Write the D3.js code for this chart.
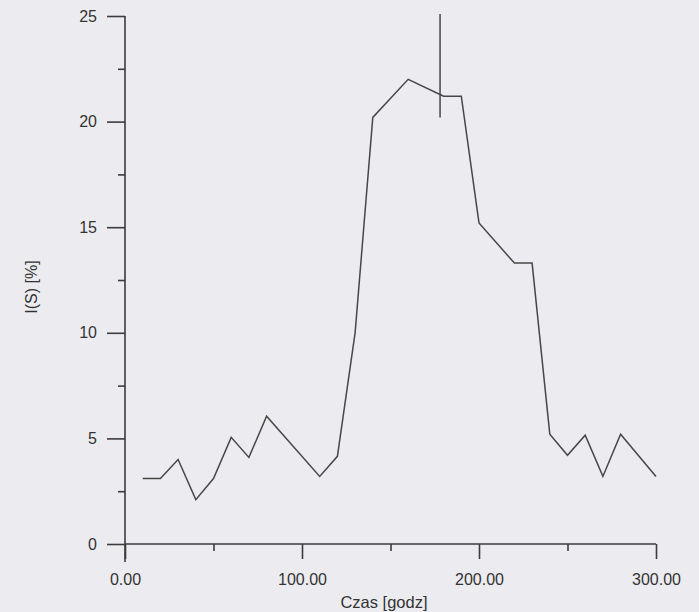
<!DOCTYPE html>
<html>
<head>
<meta charset="utf-8">
<script src="https://cdn.jsdelivr.net/npm/d3@7"></script>
<style>
  html, body { margin: 0; padding: 0; background: #ececf0; }
  svg { display: block; }
  text { font-family: "Liberation Sans", Arial, sans-serif; fill: #333; }
</style>
</head>
<body>
<svg id="chart" width="699" height="612"></svg>
<script>
// ---- data ----
const hours  = [10, 20, 30, 40, 50, 60, 70, 80, 110, 120, 130, 140, 160, 180, 190, 200, 220, 230, 240, 250, 260, 270, 280, 300];
const values = [3.1, 3.1, 4.0, 2.1, 3.1, 5.05, 4.1, 6.05, 3.2, 4.15, 10.0, 20.2, 22.0, 21.2, 21.2, 15.2, 13.3, 13.3, 5.2, 4.2, 5.15, 3.2, 5.2, 3.2];
const markerHour = [178];
const markerFrom = [20.2];
const markerTo   = [25.1];
const xMajorTicks = [0, 100, 200, 300];
const xMinorTicks = [50, 150, 250];
const yMajorTicks = [0, 5, 10, 15, 20, 25];
const yMinorTicks = [2.5, 7.5, 12.5, 17.5, 22.5];
const xTitle = "Czas [godz]";
const yTitle = "I(S) [%]";

const svg = d3.select("#chart");
const x = d3.scaleLinear().domain([0, 300]).range([125, 656]);
const y = d3.scaleLinear().domain([0, 25]).range([544, 16]);
const ink = "#3c3c3c";

// x axis (major + minor ticks)
const xAxis = d3.axisBottom(x).tickValues(xMajorTicks).tickFormat(d3.format(".2f")).tickSize(15).tickPadding(15);
const gx = svg.append("g").attr("transform", `translate(0,${y(0)})`).call(xAxis);
gx.select(".domain").attr("d", `M${x(0)},0H${x(300)}`);
const gxm = svg.append("g").attr("transform", `translate(0,${y(0)})`)
  .call(d3.axisBottom(x).tickValues(xMinorTicks).tickFormat("").tickSize(7));
gxm.select(".domain").remove();

// y axis (major + minor ticks)
const yAxis = d3.axisLeft(y).tickValues(yMajorTicks).tickFormat(d3.format("d")).tickSize(18).tickPadding(10);
const gy = svg.append("g").attr("transform", `translate(${x(0)},0)`).call(yAxis);
gy.select(".domain").attr("d", `M0,${y(25)}V${y(0) + 18}`);
const gym = svg.append("g").attr("transform", `translate(${x(0)},0)`)
  .call(d3.axisLeft(y).tickValues(yMinorTicks).tickFormat("").tickSize(7));
gym.select(".domain").remove();

svg.selectAll(".domain, .tick line").attr("stroke", ink).attr("stroke-width", 1.6);
svg.selectAll(".tick text").attr("font-size", 16).attr("fill", "#333")
  .style("font-family", "'Liberation Sans', Arial, sans-serif");

// axis titles
svg.append("text").attr("x", 384).attr("y", 608).attr("text-anchor", "middle")
  .attr("font-size", 16.5).text(xTitle);
svg.append("text").attr("transform", "translate(37,287) rotate(-90)").attr("text-anchor", "middle")
  .attr("font-size", 16).text(yTitle);

// data line
const line = d3.line().x((d, i) => x(hours[i])).y(d => y(d));
svg.append("path").datum(values).attr("d", line)
  .attr("fill", "none").attr("stroke", "#474747").attr("stroke-width", 1.5).attr("stroke-linejoin", "miter");

// vertical marker
svg.selectAll(".marker").data(markerHour).join("line").attr("class", "marker")
  .attr("x1", d => x(d)).attr("x2", d => x(d))
  .attr("y1", (d, i) => y(markerFrom[i])).attr("y2", (d, i) => y(markerTo[i]))
  .attr("stroke", "#474747").attr("stroke-width", 1.5);
</script>
</body>
</html>
